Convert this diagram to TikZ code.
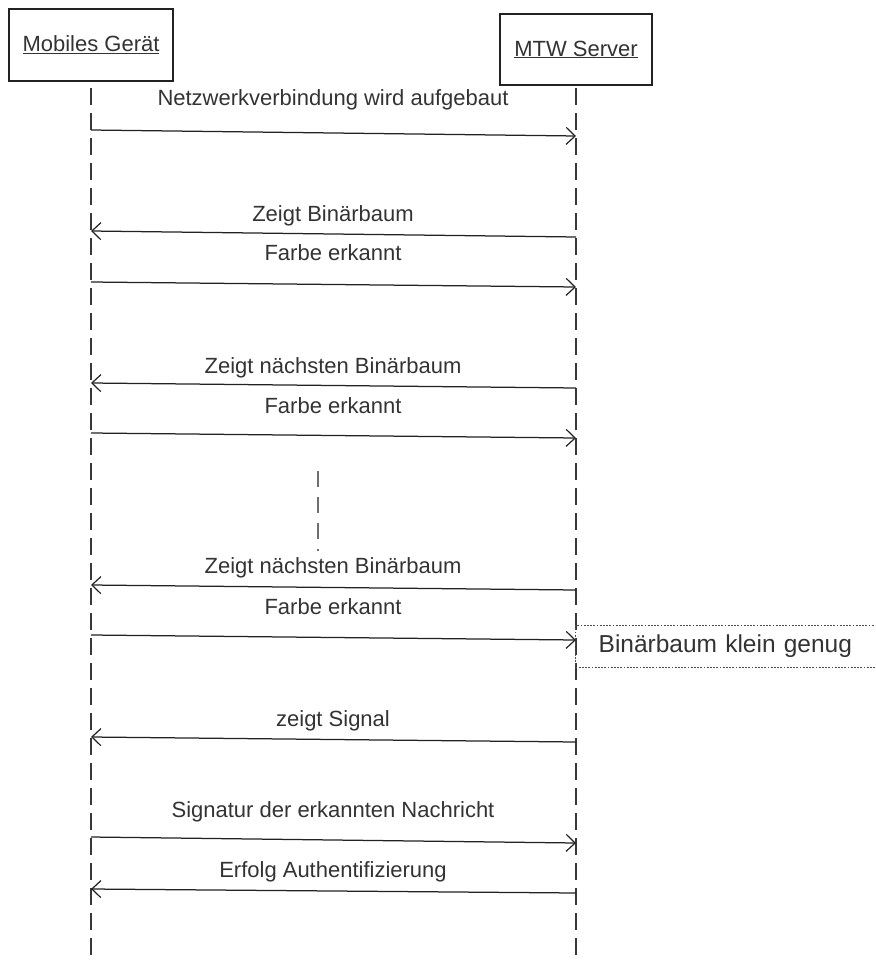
\documentclass[tikz,border=0pt]{standalone}
\usepackage{fontspec}
\setmainfont{Liberation Sans}
\usetikzlibrary{arrows.meta}
\definecolor{ink}{HTML}{222222}
\definecolor{txt}{HTML}{333333}
\begin{document}
\begin{tikzpicture}[x=1pt,y=-1pt,
  actor/.style={draw=ink,line width=1.7pt,fill=white,inner sep=0pt,
    font=\fontsize{22}{26}\selectfont,text=txt},
  life/.style={draw=ink!90,line width=1.5pt,dash pattern=on 17pt off 8pt},
  msg/.style={draw=ink,line width=1.25pt,
    -{Straight Barb[length=9pt,width=17pt,line width=1.2pt]}},
  lbl/.style={anchor=base,font=\fontsize{22}{26}\selectfont,text=txt,inner sep=0pt},
  notebox/.style={draw=ink!80,line width=1.3pt,dash pattern=on 1.8pt off 1.4pt,
    anchor=north west,minimum height=42pt,text width=290pt,align=left,
    inner xsep=23pt,inner ysep=0pt,font=\fontsize{24.5}{28}\selectfont,text=txt},
  divider/.style={draw=ink!65,line width=2.2pt,dash pattern=on 16pt off 10pt},
]
\useasboundingbox (0,0) rectangle (875,960);
\clip (0,0) rectangle (875,960);

% actors
\node[actor,minimum width=164pt,minimum height=72pt] (dev) at (91,45) {\underline{Mobiles Gerät}};
\node[actor,minimum width=152pt,minimum height=71pt] (srv) at (576,49.5) {\underline{MTW Server}};

% lifelines
\coordinate (devtop) at (91,88);
\coordinate (devbot) at (91,962);
\coordinate (srvtop) at (576,88);
\coordinate (srvbot) at (576,962);
\draw[life] (devtop) -- (devbot);
\draw[life] (srvtop) -- (srvbot);

% message end points
\coordinate (l1) at (91,130);  \coordinate (r1) at (576,136);
\coordinate (l2) at (91,231);  \coordinate (r2) at (576,237);
\coordinate (l3) at (91,282);  \coordinate (r3) at (576,287);
\coordinate (l4) at (91,383);  \coordinate (r4) at (576,388);
\coordinate (l5) at (91,433);  \coordinate (r5) at (576,438);
\coordinate (l7) at (91,585);  \coordinate (r7) at (576,590);
\coordinate (l8) at (91,635);  \coordinate (r8) at (576,640);
\coordinate (l9) at (91,737);  \coordinate (r9) at (576,742);
\coordinate (l10) at (91,837); \coordinate (r10) at (576,843);
\coordinate (l11) at (91,889); \coordinate (r11) at (576,893);

% note
\node[notebox] (note) at (575,625) {Binärbaum klein genug};

% messages
\draw[msg] (l1) -- (r1);
\draw[msg] (r2) -- (l2);
\draw[msg] (l3) -- (r3);
\draw[msg] (r4) -- (l4);
\draw[msg] (l5) -- (r5);
\draw[msg] (r7) -- (l7);
\draw[msg] (l8) -- (r8);
\draw[msg] (r9) -- (l9);
\draw[msg] (l10) -- (r10);
\draw[msg] (r11) -- (l11);

% labels
\node[lbl] (t1) at (333,106) {Netzwerkverbindung wird aufgebaut};
\node[lbl] (t2) at (333,221) {Zeigt Binärbaum};
\node[lbl] (t3) at (333,260) {Farbe erkannt};
\node[lbl] (t4) at (333,373) {Zeigt nächsten Binärbaum};
\node[lbl] (t5) at (333,413) {Farbe erkannt};
\node[lbl] (t7) at (333,573) {Zeigt nächsten Binärbaum};
\node[lbl] (t8) at (333,614) {Farbe erkannt};
\node[lbl] (t9) at (333,726) {zeigt Signal};
\node[lbl] (t10) at (333,817) {Signatur der erkannten Nachricht};
\node[lbl] (t11) at (333,877) {Erfolg Authentifizierung};

% ellipsis divider
\coordinate (dv1) at (318,471);
\coordinate (dv2) at (318,551);
\draw[divider] (dv1) -- (dv2);
\end{tikzpicture}
\end{document}
